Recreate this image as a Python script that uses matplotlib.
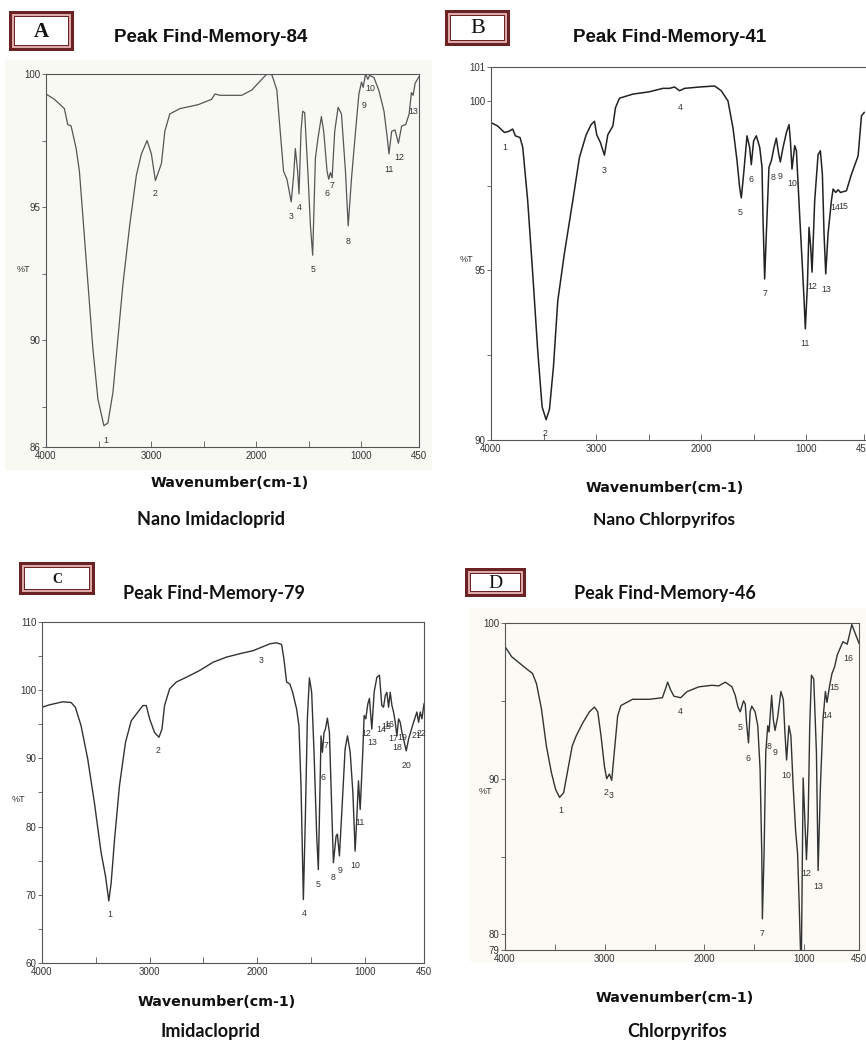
import matplotlib
matplotlib.use("Agg")
import matplotlib.pyplot as plt
import matplotlib.patches as patches
from matplotlib import font_manager

# ---- data (wavenumber cm-1, %T) ----
a_wn = [4000, 3920, 3825, 3793, 3761, 3713, 3682, 3650, 3602, 3554, 3506, 3449, 3411, 3363,
        3315, 3268, 3204, 3140, 3092, 3038, 2997, 2959, 2927, 2901, 2869, 2822, 2726, 2551,
        2424, 2392, 2344, 2137, 2041, 1946, 1898, 1850, 1803, 1771, 1739, 1707, 1666, 1643,
        1627, 1605, 1592, 1573, 1557, 1538, 1506, 1484, 1462, 1436, 1411, 1379, 1357, 1325,
        1309, 1293, 1277, 1252, 1220, 1188, 1150, 1124, 1092, 1054, 1022, 997, 981, 959, 936,
        920, 879, 831, 783, 752, 736, 710, 678, 646, 615, 576, 544, 522, 506, 487, 450]
a_t = [99.25, 99.05, 98.7, 98.1, 98.05, 97.2, 96.35, 94.7, 92.2, 89.7, 87.8, 86.8, 86.9, 88.05,
       90.1, 92.1, 94.3, 96.2, 97.0, 97.5, 97.0, 96.0, 96.35, 96.65, 97.85, 98.5, 98.7, 98.85,
       99.05, 99.25, 99.2, 99.2, 99.4, 99.8, 100.0, 99.97, 99.4, 97.85, 96.35, 96.05, 95.2, 96.2,
       97.2, 96.35, 95.5, 97.85, 98.6, 98.55, 96.2, 94.35, 93.2, 96.85, 97.6, 98.4, 97.85, 96.35,
       96.05, 96.3, 96.1, 97.85, 98.75, 98.5, 96.35, 94.3, 96.1, 97.85, 99.25, 99.7, 99.5, 100.0,
       99.8, 99.95, 99.87, 99.37, 98.6, 97.6, 97.0, 97.85, 97.9, 97.4, 98.05, 98.1, 98.5, 99.3,
       99.2, 99.65, 99.9]
a_peak_num = ["1", "2", "3", "4", "5", "6", "7", "8", "9", "10", "11", "12", "13"]
a_peak_wn = [3427, 2965, 1666, 1586, 1459, 1325, 1277, 1124, 975, 918, 736, 640, 506]
a_peak_t = [86.25, 95.5, 94.65, 95.0, 92.65, 95.5, 95.8, 93.7, 98.8, 99.47, 96.4, 96.85, 98.6]

b_wn = [4000, 3937, 3873, 3832, 3794, 3768, 3724, 3698, 3651, 3603, 3556, 3514, 3476, 3444,
        3406, 3365, 3302, 3222, 3159, 3095, 3048, 3016, 2994, 2959, 2921, 2889, 2841, 2816,
        2778, 2651, 2492, 2365, 2302, 2254, 2206, 2159, 2016, 1873, 1810, 1746, 1698, 1660,
        1635, 1619, 1597, 1565, 1540, 1524, 1502, 1476, 1444, 1422, 1413, 1397, 1381, 1356,
        1333, 1308, 1286, 1263, 1248, 1222, 1190, 1165, 1152, 1137, 1111, 1095, 1063, 1038,
        1022, 1010, 990, 975, 959, 946, 921, 889, 867, 848, 832, 816, 794, 762, 746, 721, 698,
        676, 619, 571, 508, 476, 450]
b_t = [99.36, 99.26, 99.07, 99.1, 99.17, 98.97, 98.92, 98.63, 97.06, 94.9, 92.65, 90.98, 90.6,
       90.9, 92.16, 94.1, 95.5, 97.06, 98.33, 99.0, 99.3, 99.4, 99.0, 98.77, 98.4, 99.0, 99.26,
       99.8, 100.08, 100.2, 100.27, 100.37, 100.37, 100.41, 100.3, 100.37, 100.41, 100.44, 100.3,
       100.0, 99.2, 98.24, 97.45, 97.14, 97.84, 98.97, 98.63, 98.12, 98.82, 98.97, 98.63, 98.04,
       96.57, 94.75, 96.08, 98.04, 98.24, 98.63, 98.9, 98.43, 98.2, 98.63, 99.07, 99.3, 98.82,
       97.99, 98.68, 98.53, 96.57, 95.1, 94.12, 93.28, 94.6, 96.27, 95.69, 94.95, 97.06, 98.41,
       98.53, 97.84, 96.08, 94.9, 96.08, 97.06, 97.4, 97.3, 97.38, 97.3, 97.35, 97.84, 98.38,
       99.56, 99.66]
b_peak_num = ["1", "2", "3", "4", "5", "6", "7", "8", "9", "10", "11", "12", "13", "14", "15"]
b_peak_wn = [3873, 3483, 2927, 2200, 1629, 1524, 1397, 1317, 1248, 1133, 1016, 946, 816, 724, 648]
b_peak_t = [98.63, 90.2, 97.96, 99.82, 96.72, 97.67, 94.33, 97.75, 97.76, 97.55, 92.86, 94.53,
            94.43, 96.86, 96.88]

c_wn = [4000, 3932, 3808, 3730, 3690, 3637, 3575, 3513, 3451, 3410, 3379, 3357, 3326, 3280,
        3224, 3171, 3109, 3062, 3031, 3000, 2954, 2913, 2885, 2861, 2814, 2752, 2658, 2534,
        2410, 2286, 2162, 2037, 1960, 1882, 1820, 1773, 1752, 1727, 1696, 1671, 1634, 1612,
        1593, 1571, 1553, 1534, 1515, 1494, 1472, 1447, 1432, 1416, 1407, 1394, 1379, 1366,
        1348, 1329, 1314, 1292, 1267, 1255, 1236, 1214, 1183, 1161, 1136, 1111, 1090, 1075,
        1059, 1043, 1019, 1006, 991, 972, 957, 935, 913, 888, 864, 842, 826, 810, 795, 779,
        764, 748, 733, 717, 702, 686, 671, 655, 640, 615, 593, 547, 516, 500, 485, 469, 450]
c_t = [97.5, 97.85, 98.3, 98.2, 97.5, 94.8, 89.9, 83.5, 76.2, 72.75, 69.1, 71.8, 78.1, 86.0,
       92.35, 95.5, 96.8, 97.75, 97.75, 95.8, 93.8, 93.1, 94.3, 97.75, 100.2, 101.2, 101.9,
       102.9, 104.1, 104.85, 105.35, 105.8, 106.3, 106.8, 106.95, 106.7, 104.6, 101.2, 100.9,
       99.7, 97.25, 94.8, 86.0, 69.3, 81.0, 95.8, 101.8, 99.7, 90.9, 78.6, 73.7, 86.0, 93.3,
       90.9, 93.8, 94.3, 95.9, 93.8, 86.0, 74.7, 78.6, 78.9, 75.7, 82.1, 91.4, 93.3, 90.9, 85.0,
       76.4, 81.1, 86.7, 82.5, 90.9, 96.3, 95.8, 98.0, 98.8, 94.3, 99.75, 101.9, 102.2, 97.75,
       97.5, 99.2, 99.7, 97.5, 99.7, 97.75, 96.8, 95.3, 93.3, 95.8, 95.3, 93.8, 92.85, 91.1,
       92.85, 95.3, 96.8, 95.3, 96.8, 95.8, 98.0]
c_peak_num = ["1", "2", "3", "4", "5", "6", "7", "8", "9", "10", "11", "12", "13", "14", "15",
              "16", "17", "18", "19", "20", "21", "22"]
c_peak_wn = [3372, 2923, 1960, 1565, 1432, 1391, 1363, 1292, 1230, 1090, 1043, 985, 935, 845,
             805, 770, 735, 702, 655, 609, 516, 469]
c_peak_t = [67.1, 91.1, 104.4, 67.2, 71.5, 87.2, 91.9, 72.5, 73.5, 74.3, 80.6, 93.6, 92.3, 94.3,
            94.7, 95.0, 92.9, 91.6, 93.1, 88.9, 93.3, 93.6]

d_wn = [4000, 3934, 3850, 3767, 3724, 3684, 3635, 3585, 3535, 3492, 3452, 3412, 3369, 3326,
        3286, 3219, 3153, 3103, 3070, 3037, 3003, 2980, 2953, 2930, 2904, 2870, 2837, 2721,
        2555, 2422, 2389, 2369, 2339, 2306, 2239, 2173, 2056, 1924, 1857, 1791, 1724, 1691,
        1664, 1641, 1608, 1591, 1575, 1558, 1542, 1525, 1492, 1465, 1442, 1425, 1419, 1402,
        1385, 1365, 1352, 1326, 1309, 1292, 1266, 1233, 1209, 1193, 1176, 1153, 1133, 1110,
        1086, 1066, 1050, 1037, 1027, 1010, 993, 977, 960, 944, 927, 904, 877, 860, 837, 811,
        787, 771, 744, 721, 694, 668, 611, 568, 522, 450]
d_t = [98.49, 97.84, 97.4, 96.97, 96.76, 96.1, 94.5, 92.1, 90.4, 89.3, 88.8, 89.1, 90.6, 92.1,
       92.75, 93.6, 94.3, 94.6, 94.3, 92.75, 90.8, 90.0, 90.3, 89.9, 91.7, 94.05, 94.7, 95.1,
       95.1, 95.2, 95.8, 96.2, 95.7, 95.3, 95.2, 95.6, 95.9, 96.0, 95.96, 96.2, 95.9, 95.35,
       94.6, 94.3, 95.0, 94.8, 93.4, 92.3, 94.3, 94.66, 94.3, 93.4, 90.6, 85.2, 81.0, 85.2,
       91.7, 93.4, 93.0, 95.35, 93.8, 93.1, 93.95, 95.6, 95.1, 92.97, 91.2, 93.4, 92.75, 89.5,
       86.7, 85.2, 82.0, 79.0, 79.0, 90.05, 87.35, 84.8, 87.35, 93.4, 96.65, 96.4, 91.7, 84.1,
       89.5, 93.8, 95.6, 94.9, 96.0, 96.75, 97.2, 97.95, 98.8, 98.64, 99.9, 98.7]
d_peak_num = ["1", "2", "3", "4", "5", "6", "7", "8", "9", "10", "12", "13", "14", "15", "16"]
d_peak_wn = [3442, 2985, 2935, 2239, 1641, 1565, 1425, 1352, 1292, 1176, 977, 860, 771, 694, 562]
d_peak_t = [87.96, 89.1, 88.9, 94.3, 93.3, 91.3, 80.05, 92.05, 91.7, 90.2, 83.9, 83.1, 94.05,
            95.85, 97.7]

x_major = [4000, 3000, 2000, 1000, 450]
x_minor = [3500, 2500, 1500]

W, H = 866, 1045
available = {f.name for f in font_manager.fontManager.ttflist}
NARROW = "Liberation Sans Narrow" if "Liberation Sans Narrow" in available else "Liberation Sans"
CAL = "Lato" if "Lato" in available else "DejaVu Sans"
MAROON = "#6b2222"


def rect_px(l, t, r, b):
    return [l / W, 1 - b / H, (r - l) / W, (b - t) / H]


def ftext(fig, x, y, s, **kw):
    fig.text(x / W, 1 - y / H, s, ha="center", va="center", **kw)


def badge(fig, l, t, r, b, letter, size, weight):
    insets = [(0, MAROON), (3.3, "#dcaaaa"), (4.6, MAROON), (5.8, "white")]
    for d, col in insets:
        fig.patches.append(patches.Rectangle(
            ((l + d) / W, 1 - (b - d) / H), (r - l - 2 * d) / W, (b - t - 2 * d) / H,
            transform=fig.transFigure, facecolor=col, edgecolor="none"))
    ftext(fig, (l + r) / 2, (t + b) / 2 + 1, letter, fontsize=size, fontweight=weight,
          family="Liberation Serif", color="#111111")


def panel(fig, rect, wn, t, ylim, ylabels, yminor, xlim, peaks, lw, color, hide_right=False):
    ax = fig.add_axes(rect_px(*rect))
    ax.patch.set_alpha(0)
    ax.plot(wn, t, color=color, lw=lw)
    ax.set_xlim(*xlim)
    ax.set_ylim(*ylim)
    ax.set_xticks(x_major)
    ax.set_xticks(x_minor, minor=True)
    ax.set_yticks(ylabels)
    ax.set_yticks(yminor, minor=True)
    ax.set_xticklabels([str(v) for v in x_major], family=NARROW, fontsize=7, color="#333333")
    ax.set_yticklabels([str(v) for v in ylabels], family=NARROW, fontsize=7, color="#333333")
    ax.tick_params(axis="x", which="both", direction="in", length=4, width=0.6, pad=3,
                   colors="#555555", labelcolor="#333333")
    ax.tick_params(axis="y", which="both", direction="out", length=3, width=0.6, pad=1,
                   colors="#555555", labelcolor="#333333")
    for sp in ax.spines.values():
        sp.set_color("#555555")
        sp.set_linewidth(0.8)
    if hide_right:
        ax.spines["right"].set_visible(False)
    nums, pw, pt = peaks
    for n, x, y in zip(nums, pw, pt):
        ax.text(x, y, n, ha="center", va="center", family=NARROW, fontsize=6.3,
                color="#333333", clip_on=False)
    return ax


fig = plt.figure(figsize=(W / 100, H / 100), dpi=100)

# faint scan tint behind panels A and D
for l, t, r, b, col in [(5, 60, 432, 470, "#f9f9f4"), (470, 608, 866, 962, "#fbfaf4")]:
    fig.patches.append(patches.Rectangle((l / W, 1 - b / H), (r - l) / W, (b - t) / H,
                                         transform=fig.transFigure, facecolor=col,
                                         edgecolor="none", zorder=-5))

# panel A
badge(fig, 9, 11, 74, 51, "A", 15, "bold")
ftext(fig, 211, 38, "Peak Find-Memory-84", fontsize=13.5, fontweight="bold",
      family="Liberation Sans", color="#111111")
panel(fig, (46, 74, 419, 447), a_wn, a_t, (86, 100), [86, 90, 95, 100], [87.5, 92.5, 97.5],
      (4000, 450), (a_peak_num, a_peak_wn, a_peak_t), 0.9, "#555555")
ftext(fig, 23, 270, "%T", fontsize=6.5, family=NARROW, color="#333333")
ftext(fig, 230, 483, "Wavenumber(cm-1)", fontsize=10.3, fontweight="bold",
      family="DejaVu Sans", color="#111111")
ftext(fig, 211, 520, "Nano Imidacloprid", fontsize=13, fontweight="bold", family=CAL,
      color="#111111")

# panel B
badge(fig, 445, 10, 510, 46, "B", 16, "normal")
ftext(fig, 670, 38, "Peak Find-Memory-41", fontsize=13.5, fontweight="bold",
      family="Liberation Sans", color="#111111")
panel(fig, (491, 67, 866, 440), b_wn, b_t, (90, 101), [90, 95, 100, 101], [92.5, 97.5],
      (4000, 433), (b_peak_num, b_peak_wn, b_peak_t), 1.1, "#222222", hide_right=True)
ftext(fig, 466, 260, "%T", fontsize=6.5, family=NARROW, color="#333333")
ftext(fig, 665, 488, "Wavenumber(cm-1)", fontsize=10.3, fontweight="bold",
      family="DejaVu Sans", color="#111111")
ftext(fig, 664, 520, "Nano Chlorpyrifos", fontsize=12.5, fontweight="bold", family=CAL,
      color="#111111")

# panel C
badge(fig, 19, 562, 95, 595, "C", 10, "bold")
ftext(fig, 214, 594, "Peak Find-Memory-79", fontsize=13, fontweight="bold", family=CAL,
      color="#111111")
panel(fig, (42, 622, 424, 963), c_wn, c_t, (60, 110), [60, 70, 80, 90, 100, 110],
      [65, 75, 85, 95, 105], (4000, 450), (c_peak_num, c_peak_wn, c_peak_t), 1.0, "#333333")
ftext(fig, 18, 800, "%T", fontsize=6.5, family=NARROW, color="#333333")
ftext(fig, 217, 1002, "Wavenumber(cm-1)", fontsize=10.3, fontweight="bold",
      family="DejaVu Sans", color="#111111")
ftext(fig, 211, 1031, "Imidacloprid", fontsize=13, fontweight="bold", family=CAL,
      color="#111111")

# panel D
badge(fig, 465, 568, 526, 597, "D", 14, "normal")
ftext(fig, 665, 594, "Peak Find-Memory-46", fontsize=13, fontweight="bold", family=CAL,
      color="#111111")
panel(fig, (505, 623, 859, 950), d_wn, d_t, (79, 100), [79, 80, 90, 100], [85, 95],
      (4000, 450), (d_peak_num, d_peak_wn, d_peak_t), 1.0, "#333333")
ftext(fig, 485, 792, "%T", fontsize=6.5, family=NARROW, color="#333333")
ftext(fig, 675, 998, "Wavenumber(cm-1)", fontsize=10.3, fontweight="bold",
      family="DejaVu Sans", color="#111111")
ftext(fig, 677, 1031, "Chlorpyrifos", fontsize=13, fontweight="bold", family=CAL,
      color="#111111")

fig.savefig("out.png", dpi=100)
